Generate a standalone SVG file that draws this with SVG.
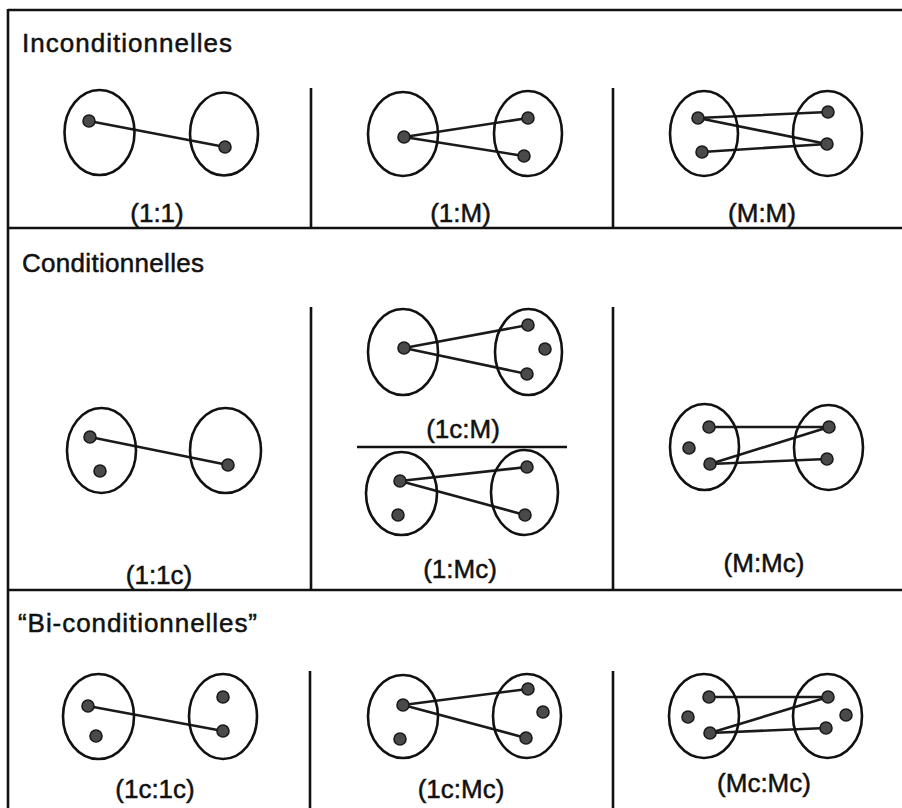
<svg xmlns="http://www.w3.org/2000/svg" width="902" height="808" viewBox="0 0 902 808">
  <style>
    .frame { stroke: #111; stroke-width: 2.6; fill: none; }
    .set { stroke: #111; stroke-width: 2.6; fill: none; }
    .el { fill: #4a4a4a; stroke: #1a1a1a; stroke-width: 1.6; }
    .link { stroke: #1a1a1a; stroke-width: 2.6; fill: none; stroke-linecap: round; }
    .title { font-family: "Liberation Sans", Arial, sans-serif; font-size: 26px; fill: #111; stroke: #111; stroke-width: 0.5; }
    .label { font-family: "Liberation Sans", Arial, sans-serif; font-size: 26px; fill: #111; stroke: #111; stroke-width: 0.5; text-anchor: middle; }
  </style>
  <rect width="902" height="808" fill="#fff"/>

  <!-- table frame -->
  <g id="frame" class="frame">
    <line x1="8" y1="10" x2="902" y2="10"/>
    <line x1="8" y1="9" x2="8" y2="808"/>
    <line x1="8" y1="228" x2="902" y2="228"/>
    <line x1="8" y1="590" x2="902" y2="590"/>
    <line x1="311" y1="88" x2="311" y2="228"/>
    <line x1="613" y1="88" x2="613" y2="228"/>
    <line x1="311" y1="307" x2="311" y2="590"/>
    <line x1="613" y1="307" x2="613" y2="590"/>
    <line x1="357" y1="447" x2="567" y2="447"/>
    <line x1="310" y1="671" x2="310" y2="808"/>
    <line x1="613" y1="671" x2="613" y2="808"/>
  </g>

  <!-- row headings -->
  <text class="title" x="22" y="52" textLength="210" lengthAdjust="spacing">Inconditionnelles</text>
  <text class="title" x="22" y="272" textLength="182" lengthAdjust="spacing">Conditionnelles</text>
  <text class="title" x="18" y="632" textLength="239" lengthAdjust="spacing">“Bi-conditionnelles”</text>

  <!-- links between elements -->
  <g id="connectors" class="link">
    <line x1="89" y1="121" x2="225" y2="147"/>
    <line x1="404" y1="137" x2="528" y2="118"/>
    <line x1="404" y1="137" x2="524" y2="156"/>
    <line x1="698" y1="118" x2="828" y2="112"/>
    <line x1="698" y1="118" x2="827" y2="144"/>
    <line x1="702" y1="152" x2="827" y2="144"/>
    <line x1="90" y1="437" x2="228" y2="465"/>
    <line x1="404" y1="348" x2="528" y2="325"/>
    <line x1="404" y1="348" x2="527" y2="374"/>
    <line x1="400" y1="481" x2="527" y2="467"/>
    <line x1="400" y1="481" x2="525" y2="515"/>
    <line x1="709" y1="427" x2="829" y2="427"/>
    <line x1="710" y1="464" x2="829" y2="427"/>
    <line x1="710" y1="464" x2="827" y2="459"/>
    <line x1="88" y1="706" x2="223" y2="731"/>
    <line x1="403" y1="705" x2="528" y2="689"/>
    <line x1="403" y1="705" x2="526" y2="738"/>
    <line x1="709" y1="697" x2="828" y2="697"/>
    <line x1="710" y1="733" x2="828" y2="697"/>
    <line x1="710" y1="733" x2="826" y2="728"/>
  </g>

  <!-- unconditional 1:1 -->
  <g id="n-1-1">
    <ellipse class="set" cx="99.5" cy="132.5" rx="35" ry="42.5"/>
    <ellipse class="set" cx="224" cy="134" rx="34" ry="41.5"/>
    <circle class="el" cx="89" cy="121" r="6"/>
    <circle class="el" cx="225" cy="147" r="6"/>
    <text class="label" x="157" y="222">(1:1)</text>
  </g>

  <!-- unconditional 1:M -->
  <g id="n-1-M">
    <ellipse class="set" cx="403" cy="134" rx="35" ry="42"/>
    <ellipse class="set" cx="528" cy="133.5" rx="34" ry="42.5"/>
    <circle class="el" cx="404" cy="137" r="6"/>
    <circle class="el" cx="528" cy="118" r="6"/>
    <circle class="el" cx="524" cy="156" r="6"/>
    <text class="label" x="460.5" y="222">(1:M)</text>
  </g>

  <!-- unconditional M:M -->
  <g id="n-M-M">
    <ellipse class="set" cx="704" cy="133.5" rx="34" ry="42.5"/>
    <ellipse class="set" cx="827.5" cy="133.5" rx="34.5" ry="42.5"/>
    <circle class="el" cx="698" cy="118" r="6"/>
    <circle class="el" cx="702" cy="152" r="6"/>
    <circle class="el" cx="828" cy="112" r="6"/>
    <circle class="el" cx="827" cy="144" r="6"/>
    <text class="label" x="762" y="222">(M:M)</text>
  </g>

  <!-- conditional 1:1c -->
  <g id="n-1-1c">
    <ellipse class="set" cx="101.5" cy="450.5" rx="34.5" ry="42.5"/>
    <ellipse class="set" cx="225.5" cy="450.5" rx="35.5" ry="42.5"/>
    <circle class="el" cx="90" cy="437" r="6"/>
    <circle class="el" cx="100" cy="471" r="6"/>
    <circle class="el" cx="228" cy="465" r="6"/>
    <text class="label" x="159" y="584">(1:1c)</text>
  </g>

  <!-- conditional 1c:M -->
  <g id="n-1c-M">
    <ellipse class="set" cx="403" cy="352" rx="35" ry="43"/>
    <ellipse class="set" cx="528.5" cy="352" rx="33.5" ry="43"/>
    <circle class="el" cx="404" cy="348" r="6"/>
    <circle class="el" cx="528" cy="325" r="6"/>
    <circle class="el" cx="545" cy="349" r="6"/>
    <circle class="el" cx="527" cy="374" r="6"/>
    <text class="label" x="463" y="438">(1c:M)</text>
  </g>

  <!-- conditional 1:Mc -->
  <g id="n-1-Mc">
    <ellipse class="set" cx="401.5" cy="493.5" rx="35.5" ry="41.5"/>
    <ellipse class="set" cx="524.5" cy="492.5" rx="33.5" ry="42.5"/>
    <circle class="el" cx="400" cy="481" r="6"/>
    <circle class="el" cx="398" cy="515" r="6"/>
    <circle class="el" cx="527" cy="467" r="6"/>
    <circle class="el" cx="525" cy="515" r="6"/>
    <text class="label" x="460" y="578">(1:Mc)</text>
  </g>

  <!-- conditional M:Mc -->
  <g id="n-M-Mc">
    <ellipse class="set" cx="704.5" cy="447" rx="34.5" ry="43"/>
    <ellipse class="set" cx="828.5" cy="447.5" rx="34.5" ry="42.5"/>
    <circle class="el" cx="709" cy="427" r="6"/>
    <circle class="el" cx="689" cy="448" r="6"/>
    <circle class="el" cx="710" cy="464" r="6"/>
    <circle class="el" cx="829" cy="427" r="6"/>
    <circle class="el" cx="827" cy="459" r="6"/>
    <text class="label" x="764" y="572">(M:Mc)</text>
  </g>

  <!-- biconditional 1c:1c -->
  <g id="n-1c-1c">
    <ellipse class="set" cx="98.5" cy="716.5" rx="35.5" ry="42.5"/>
    <ellipse class="set" cx="223" cy="716.5" rx="34" ry="42.5"/>
    <circle class="el" cx="88" cy="706" r="6"/>
    <circle class="el" cx="96" cy="736" r="6"/>
    <circle class="el" cx="223" cy="697" r="6"/>
    <circle class="el" cx="223" cy="731" r="6"/>
    <text class="label" x="155" y="798">(1c:1c)</text>
  </g>

  <!-- biconditional 1c:Mc -->
  <g id="n-1c-Mc">
    <ellipse class="set" cx="403" cy="716.5" rx="35" ry="41.5"/>
    <ellipse class="set" cx="527" cy="716" rx="34" ry="42"/>
    <circle class="el" cx="403" cy="705" r="6"/>
    <circle class="el" cx="400" cy="739" r="6"/>
    <circle class="el" cx="528" cy="689" r="6"/>
    <circle class="el" cx="543" cy="712" r="6"/>
    <circle class="el" cx="526" cy="738" r="6"/>
    <text class="label" x="461" y="798">(1c:Mc)</text>
  </g>

  <!-- biconditional Mc:Mc -->
  <g id="n-Mc-Mc">
    <ellipse class="set" cx="704" cy="716" rx="35" ry="42"/>
    <ellipse class="set" cx="827.5" cy="716" rx="34.5" ry="42"/>
    <circle class="el" cx="709" cy="697" r="6"/>
    <circle class="el" cx="688" cy="717" r="6"/>
    <circle class="el" cx="710" cy="733" r="6"/>
    <circle class="el" cx="828" cy="697" r="6"/>
    <circle class="el" cx="846" cy="715" r="6"/>
    <circle class="el" cx="826" cy="728" r="6"/>
    <text class="label" x="764" y="792">(Mc:Mc)</text>
  </g>
</svg>
